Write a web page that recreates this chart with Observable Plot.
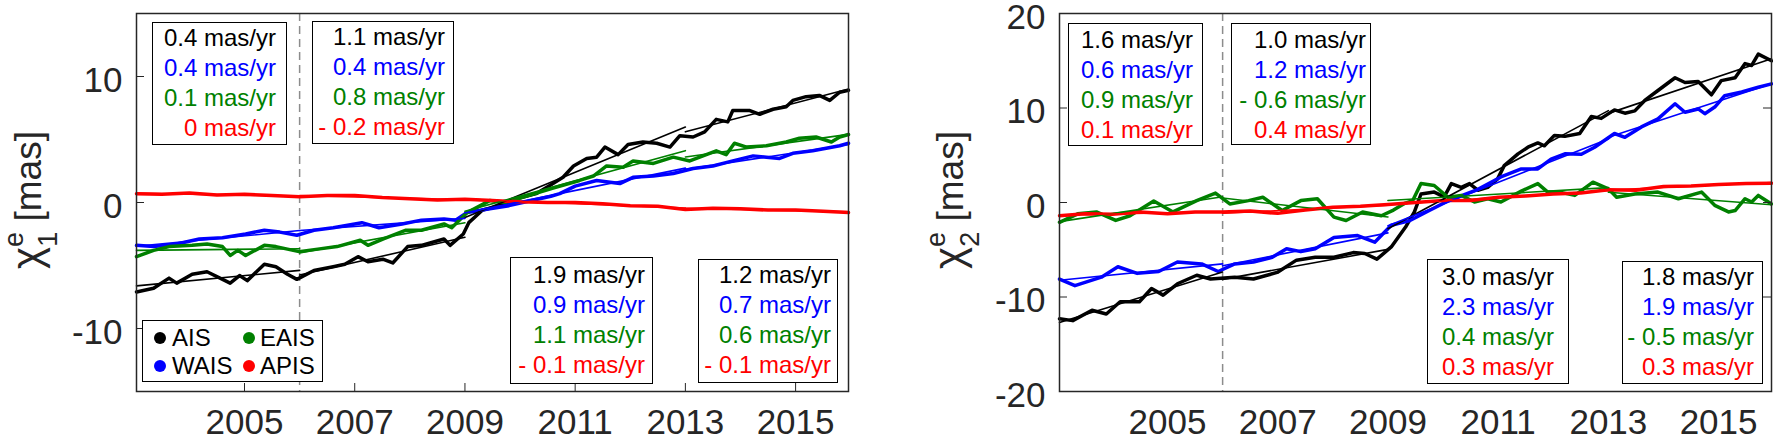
<!DOCTYPE html>
<html><head><meta charset="utf-8">
<script src="https://cdn.jsdelivr.net/npm/d3@7"></script>
<script src="https://cdn.jsdelivr.net/npm/@observablehq/plot@0.6"></script>
<style>
body{margin:0;background:#fff}
#fig{position:relative;width:1773px;height:441px;overflow:hidden;font-family:'Liberation Sans',Arial,sans-serif;background:#fff}
.panel{position:absolute;top:0}
.box{position:absolute;box-sizing:border-box;border:1.5px solid #000;background:#fff;text-align:right;font-size:24px;line-height:30px;white-space:nowrap}
.leg{position:absolute;box-sizing:border-box;border:1.5px solid #000;background:#fff;font-size:24px}
.leg span{position:absolute;line-height:28px}
.dot{position:absolute;width:12px;height:12px;border-radius:50%}
</style></head><body><div id="fig"></div><script>
// ---------- data ----------
const seriesNames = ["AIS", "WAIS", "EAIS", "APIS"];
const seriesColors = ["#000000", "#0000ff", "#008000", "#ff0000"];
const tStart = 2003.04, tEnd = 2015.96;
const trendBreaks = [2006, 2009, 2013];
const xTicks = [2005, 2007, 2009, 2011, 2013, 2015];
const yTicks1 = [-10, 0, 10];
const yTicks2 = [-20, -10, 0, 10, 20];
const yDomain1 = [-15, 15];
const yDomain2 = [-20, 20];

// chi1 (panel 1)
const chi1_AIS = [[2003.04,-7.1],[2003.35,-6.8],[2003.63,-6.0],[2003.77,-6.4],[2004.05,-5.7],[2004.32,-5.5],[2004.74,-6.4],[2004.91,-5.8],[2005.05,-6.2],[2005.36,-4.9],[2005.57,-5.1],[2005.78,-5.7],[2005.95,-6.1],[2006.26,-5.4],[2006.61,-5.1],[2006.82,-4.9],[2007.06,-4.3],[2007.24,-4.7],[2007.51,-4.5],[2007.69,-4.8],[2007.96,-3.5],[2008.21,-3.4],[2008.62,-2.9],[2008.73,-3.4],[2008.97,-2.5],[2009.07,-1.6],[2009.32,-0.6],[2009.59,-0.3],[2009.94,0.3],[2010.29,0.7],[2010.54,1.35],[2010.78,2.0],[2010.97,2.9],[2011.21,3.5],[2011.39,3.6],[2011.54,4.4],[2011.78,3.8],[2011.96,4.6],[2012.23,4.8],[2012.48,4.7],[2012.72,4.4],[2012.90,5.3],[2013.14,5.2],[2013.35,5.6],[2013.56,6.6],[2013.77,6.4],[2013.86,7.3],[2014.17,7.3],[2014.35,7.0],[2014.59,7.4],[2014.83,7.6],[2014.95,8.1],[2015.19,8.4],[2015.43,8.5],[2015.62,8.1],[2015.80,8.75],[2015.96,8.9]];
const chi1_WAIS = [[2003.04,-3.4],[2003.35,-3.5],[2003.77,-3.3],[2004.18,-2.9],[2004.6,-2.8],[2005.02,-2.5],[2005.36,-2.2],[2005.64,-2.35],[2005.95,-2.6],[2006.26,-2.2],[2006.61,-2.0],[2007.13,-1.6],[2007.44,-2.0],[2007.86,-1.7],[2008.21,-1.4],[2008.62,-1.3],[2008.83,-1.4],[2009.04,-0.8],[2009.45,-0.5],[2009.80,-0.25],[2010.15,0.1],[2010.56,0.5],[2010.72,0.7],[2011.0,1.3],[2011.39,1.75],[2011.81,1.5],[2012.05,2.0],[2012.42,2.1],[2012.78,2.3],[2013.14,2.7],[2013.50,2.9],[2013.86,3.3],[2014.23,3.7],[2014.47,3.6],[2014.71,3.5],[2014.95,3.9],[2015.31,4.1],[2015.80,4.5],[2015.96,4.7]];
const chi1_EAIS = [[2003.04,-4.3],[2003.35,-3.8],[2003.63,-3.5],[2004.05,-3.4],[2004.32,-3.3],[2004.6,-3.5],[2004.74,-4.2],[2004.88,-3.8],[2005.02,-4.2],[2005.36,-3.4],[2005.57,-3.5],[2005.99,-3.9],[2006.33,-3.7],[2006.68,-3.5],[2007.1,-3.0],[2007.24,-3.4],[2007.51,-2.9],[2007.93,-2.2],[2008.21,-2.2],[2008.62,-1.7],[2008.76,-2.0],[2009.04,-0.8],[2009.45,0.15],[2009.73,0.0],[2010.15,0.55],[2010.6,1.15],[2011.08,1.75],[2011.33,2.1],[2011.57,2.9],[2011.87,2.8],[2012.05,3.3],[2012.42,3.1],[2012.78,3.6],[2013.08,3.3],[2013.32,3.7],[2013.56,4.1],[2013.74,3.8],[2013.89,4.7],[2014.11,4.4],[2014.47,4.5],[2014.83,4.8],[2015.07,5.1],[2015.37,5.2],[2015.65,4.8],[2015.80,5.2],[2015.96,5.4]];
const chi1_APIS = [[2003.04,0.7],[2003.5,0.65],[2004.0,0.75],[2004.5,0.6],[2005.0,0.65],[2005.5,0.55],[2006.0,0.45],[2006.5,0.55],[2007.0,0.55],[2007.5,0.4],[2008.0,0.3],[2008.5,0.2],[2009.0,0.25],[2009.5,0.15],[2010.0,0.05],[2010.5,0.0],[2011.0,0.0],[2011.5,-0.1],[2012.0,-0.25],[2012.5,-0.3],[2013.0,-0.55],[2013.5,-0.45],[2014.0,-0.5],[2014.5,-0.6],[2015.0,-0.6],[2015.5,-0.7],[2015.96,-0.8]];

// chi2 (panel 2)
const chi2_AIS = [[2003.04,-12.3],[2003.28,-12.5],[2003.63,-11.4],[2003.89,-11.8],[2004.14,-10.5],[2004.49,-10.5],[2004.71,-9.1],[2004.92,-9.8],[2005.18,-8.6],[2005.53,-7.7],[2005.78,-8.1],[2006.22,-7.9],[2006.56,-8.1],[2006.99,-7.4],[2007.34,-6.1],[2007.68,-5.8],[2008.02,-5.8],[2008.37,-5.3],[2008.58,-5.4],[2008.80,-6.0],[2009.06,-4.7],[2009.32,-2.6],[2009.48,-1.0],[2009.60,0.9],[2009.84,1.1],[2010.02,0.6],[2010.15,2.0],[2010.33,1.6],[2010.48,2.0],[2010.63,1.3],[2010.81,1.6],[2010.99,2.5],[2011.11,3.9],[2011.36,5.15],[2011.54,5.85],[2011.72,6.3],[2011.84,6.0],[2012.02,7.1],[2012.21,7.0],[2012.48,7.3],[2012.69,9.1],[2012.87,8.9],[2013.11,9.8],[2013.30,9.45],[2013.48,9.7],[2013.66,10.8],[2013.90,11.85],[2014.21,13.2],[2014.39,12.7],[2014.63,12.8],[2014.87,11.4],[2015.05,12.9],[2015.30,13.2],[2015.48,14.7],[2015.60,14.5],[2015.72,15.7],[2015.96,15.0]];
const chi2_WAIS = [[2003.04,-8.1],[2003.32,-8.8],[2003.80,-7.9],[2004.1,-6.8],[2004.45,-7.5],[2004.84,-7.3],[2005.18,-6.3],[2005.62,-6.5],[2005.92,-7.3],[2006.22,-6.5],[2006.56,-6.3],[2006.90,-5.8],[2007.16,-4.9],[2007.42,-5.2],[2007.68,-4.9],[2008.02,-3.7],[2008.45,-3.5],[2008.76,-4.2],[2009.06,-2.4],[2009.40,-1.9],[2009.75,-0.85],[2010.10,0.2],[2010.6,1.3],[2011.05,2.7],[2011.42,3.55],[2011.72,3.55],[2011.96,4.6],[2012.21,5.15],[2012.51,5.1],[2012.75,5.85],[2013.11,7.3],[2013.30,6.9],[2013.60,8.0],[2013.90,8.85],[2014.21,10.45],[2014.39,9.55],[2014.63,9.9],[2014.75,9.4],[2014.93,10.1],[2015.11,11.3],[2015.42,11.7],[2015.72,12.2],[2015.96,12.55]];
const chi2_EAIS = [[2003.04,-2.1],[2003.37,-1.2],[2003.71,-1.0],[2004.06,-1.9],[2004.32,-1.4],[2004.75,0.15],[2005.10,-1.0],[2005.53,0.2],[2005.87,1.0],[2006.13,-0.15],[2006.47,0.2],[2006.73,0.55],[2007.08,-0.85],[2007.42,0.2],[2007.72,0.4],[2008.02,-1.55],[2008.24,-1.9],[2008.54,-1.0],[2008.88,-1.4],[2009.10,-0.8],[2009.30,-0.1],[2009.45,0.2],[2009.60,2.0],[2009.84,1.8],[2010.09,0.55],[2010.33,0.75],[2010.57,0.05],[2010.81,0.4],[2011.05,0.05],[2011.42,1.2],[2011.72,2.0],[2011.90,1.1],[2012.12,1.1],[2012.39,0.75],[2012.72,2.15],[2013.00,1.45],[2013.15,0.55],[2013.48,0.9],[2013.90,1.1],[2014.27,0.4],[2014.69,1.1],[2014.93,-0.3],[2015.18,-1.0],[2015.30,-0.85],[2015.48,0.4],[2015.60,0.05],[2015.72,0.75],[2015.96,-0.15]];
const chi2_APIS = [[2003.04,-1.4],[2003.5,-1.2],[2004.0,-1.25],[2004.5,-1.0],[2005.0,-1.2],[2005.5,-1.0],[2006.0,-1.0],[2006.5,-0.9],[2007.0,-1.15],[2007.5,-0.8],[2008.0,-0.5],[2008.5,-0.4],[2009.0,-0.2],[2009.5,0.0],[2010.0,0.2],[2010.5,0.2],[2011.0,0.55],[2011.5,0.7],[2012.0,0.9],[2012.5,1.0],[2013.0,1.35],[2013.5,1.3],[2014.0,1.7],[2014.5,1.75],[2015.0,1.9],[2015.5,2.0],[2015.96,2.05]];

// trend rates printed in the boxes (rows: AIS, WAIS, EAIS, APIS), one list per period
const chi1_rates = [["0.4","0.4","0.1","0"],["1.1","0.4","0.8","- 0.2"],["1.9","0.9","1.1","- 0.1"],["1.2","0.7","0.6","- 0.1"]];
const chi2_rates = [["1.6","0.6","0.9","0.1"],["1.0","1.2","- 0.6","0.4"],["3.0","2.3","0.4","0.3"],["1.8","1.9","- 0.5","0.3"]];
const rateUnit = " mas/yr";

// ---------- helpers ----------
function toRows(list) {
  const out = [];
  list.forEach((pts, i) => pts.forEach(([t, v]) => out.push({t, v, s: seriesNames[i]})));
  return out;
}
function fitRows(list) {
  const edges = [tStart, ...trendBreaks, tEnd];
  const out = [];
  list.forEach((pts, i) => {
    for (let k = 0; k < edges.length - 1; k++) {
      const a = edges[k], b = edges[k + 1];
      const seg = pts.filter(([t]) => t >= a - 0.02 && t <= b + 0.02);
      const mt = d3.mean(seg, p => p[0]), mv = d3.mean(seg, p => p[1]);
      const slope = d3.sum(seg, p => (p[0] - mt) * (p[1] - mv)) / d3.sum(seg, p => (p[0] - mt) ** 2);
      const key = seriesNames[i] + k;
      out.push({t: a, v: mv + slope * (a - mt), s: seriesNames[i], k: key});
      out.push({t: b, v: mv + slope * (b - mt), s: seriesNames[i], k: key});
    }
  });
  return out;
}
const H = 441, MT = 13, MB = 50;
const fontFam = "'Liberation Sans', Arial, Helvetica, sans-serif";
function makePanel({series, yDomain, yTicks, width, marginLeft, marginRight, bottomTicks, leftTicks, rightTicks}) {
  const fw = width - marginLeft - marginRight;
  const fh = H - MT - MB;
  const marks = [
    Plot.ruleX([2006], {stroke: "#8c8c8c", strokeDasharray: "8,5", strokeWidth: 1.5}),
    Plot.line(toRows(series), {x: "t", y: "v", z: "s", stroke: "s", strokeWidth: 3.5, strokeLinejoin: "round"}),
    Plot.line(fitRows(series), {x: "t", y: "v", z: "k", stroke: "s", strokeWidth: 1.6}),
    Plot.axisX({ticks: xTicks, tickSize: 0, tickPadding: 18, fontSize: 35, tickFormat: d => String(d), label: null}),
    Plot.axisY({ticks: yTicks, tickSize: 0, tickPadding: 14, dy: 4, fontSize: 35, tickFormat: d => String(d), label: null})
  ];
  if (bottomTicks) marks.push(Plot.tickX(bottomTicks, {x: d => d, insetTop: fh - 8, stroke: "#262626"}));
  if (leftTicks) marks.push(Plot.tickY(leftTicks, {y: d => d, insetRight: fw - 8, stroke: "#262626"}));
  if (rightTicks) marks.push(Plot.tickY(rightTicks, {y: d => d, insetLeft: fw - 8, stroke: "#262626"}));
  marks.push(Plot.frame({stroke: "#262626", strokeWidth: 1.5}));
  return Plot.plot({
    width, height: H, marginLeft, marginRight, marginTop: MT, marginBottom: MB,
    x: {domain: [tStart, tEnd]},
    y: {domain: yDomain},
    color: {domain: seriesNames, range: seriesColors},
    style: {fontFamily: fontFam, fontSize: "35px", color: "#262626", background: "transparent", overflow: "visible"},
    marks
  });
}
function addYTitle(svg, x, sub) {
  const t = d3.select(svg).append("text")
    .attr("transform", `translate(${x},200) rotate(-90)`)
    .attr("text-anchor", "middle").attr("fill", "#262626")
    .attr("font-family", fontFam).attr("font-size", 37);
  t.append("tspan").attr("font-size", 42).text("χ");
  t.append("tspan").attr("font-size", 27).attr("dy", -18).text("e");
  t.append("tspan").attr("font-size", 27).attr("dx", -15).attr("dy", 34).text(sub);
  t.append("tspan").attr("dy", -16).text(" [mas]");
}
const fig = document.getElementById("fig");
function place(el, left) { el.classList.add("panel"); el.style.left = left + "px"; fig.appendChild(el); }
function rateBox(left, top, w, h, padRight, padTop, rates) {
  const d = document.createElement("div");
  d.className = "box";
  Object.assign(d.style, {left: left + "px", top: top + "px", width: w + "px", height: h + "px", paddingRight: padRight + "px", paddingTop: padTop + "px"});
  rates.forEach((r, i) => {
    const line = document.createElement("div");
    line.style.color = seriesColors[i];
    line.textContent = r + rateUnit;
    d.appendChild(line);
  });
  fig.appendChild(d);
}

// ---------- panels ----------
const p1 = makePanel({series: [chi1_AIS, chi1_WAIS, chi1_EAIS, chi1_APIS], yDomain: yDomain1, yTicks: yTicks1,
  width: 880, marginLeft: 136, marginRight: 32, bottomTicks: xTicks, leftTicks: yTicks1});
place(p1, 0);
addYTitle(p1, 41, "1");

const p2 = makePanel({series: [chi2_AIS, chi2_WAIS, chi2_EAIS, chi2_APIS], yDomain: yDomain2, yTicks: yTicks2,
  width: 853, marginLeft: 139, marginRight: 2, leftTicks: [-10, 0, 10], rightTicks: [-10, 0, 10]});
place(p2, 920);
addYTitle(p2, 43, "2");

// ---------- rate boxes ----------
rateBox(152, 22, 135, 123, 10, 0, chi1_rates[0]);
rateBox(312, 21, 142, 123, 8, 0, chi1_rates[1]);
rateBox(510, 257, 143, 127, 7, 2, chi1_rates[2]);
rateBox(698, 259, 140, 124, 6, 0, chi1_rates[3]);
rateBox(1068, 23, 135, 123, 9, 1, chi2_rates[0]);
rateBox(1231, 23, 140, 122, 4, 1, chi2_rates[1]);
rateBox(1427, 259, 142, 125, 14, 2, chi2_rates[2]);
rateBox(1622, 261, 141, 123, 8, 0, chi2_rates[3]);

// ---------- legend ----------
const leg = document.createElement("div");
leg.className = "leg";
Object.assign(leg.style, {left: "142px", top: "320px", width: "181px", height: "62px"});
const legPos = [[0, 0], [0, 1], [1, 0], [1, 1]]; // [column,row] for AIS, WAIS, EAIS, APIS
seriesNames.forEach((n, i) => {
  const [c, r] = legPos[i];
  const dot = document.createElement("div");
  dot.className = "dot";
  dot.style.background = seriesColors[i];
  dot.style.left = (11 + c * 89) + "px";
  dot.style.top = (11 + r * 28) + "px";
  leg.appendChild(dot);
  const s = document.createElement("span");
  s.textContent = n;
  s.style.left = (29 + c * 88) + "px";
  s.style.top = (3 + r * 28) + "px";
  leg.appendChild(s);
});
fig.appendChild(leg);
</script></body></html>
